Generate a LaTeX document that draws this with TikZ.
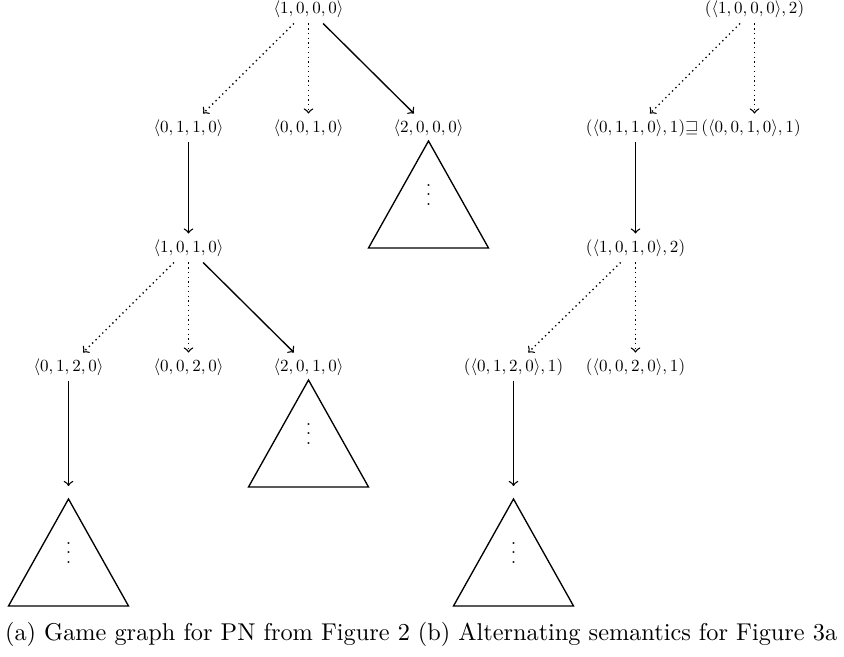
\documentclass[tikz,border=0pt]{standalone}
\usetikzlibrary{calc}
\begin{document}
\begin{tikzpicture}[x=0.4115pt,y=-0.4115pt,
  st/.style={scale=0.7, inner sep=3.3pt},
  lw/.style={line width=0.55pt},
  solidarrow/.style={lw,->},
  dotarrow/.style={lw,->,dash pattern=on 0.55pt off 1.4pt},
  tri/.style={lw},
  dotsnode/.style={anchor=base, inner sep=0, font=\scriptsize},
  captext/.style={inner sep=0}]
\useasboundingbox (0,0) rectangle (844,657);
% ---------- left tree ----------
\node[st] (a0) at (308.5,9) {$\langle 1,0,0,0\rangle$};
\node[st] (a1) at (188.5,128) {$\langle 0,1,1,0\rangle$};
\node[st] (a2) at (308.5,128) {$\langle 0,0,1,0\rangle$};
\node[st] (a3) at (428.5,128) {$\langle 2,0,0,0\rangle$};
\node[st] (b0) at (188.5,248) {$\langle 1,0,1,0\rangle$};
\node[st] (c1) at (68.5,367) {$\langle 0,1,2,0\rangle$};
\node[st] (c2) at (188.5,367) {$\langle 0,0,2,0\rangle$};
\node[st] (c3) at (308.5,367) {$\langle 2,0,1,0\rangle$};
\coordinate (d1) at (68.5,486);
\draw[dotarrow] (a0) -- (a1);
\draw[dotarrow] (a0) -- (a2);
\draw[solidarrow] (a0) -- (a3);
\draw[solidarrow] (a1) -- (b0);
\draw[dotarrow] (b0) -- (c1);
\draw[dotarrow] (b0) -- (c2);
\draw[solidarrow] (b0) -- (c3);
\draw[solidarrow] (c1) -- (d1);
% triangles
\draw[tri] ($(a3)+(0,13)$) -- ++(-60,107) -- ++(120,0) -- cycle;
\node[dotsnode] (va3) at ($(a3)+(0,77.5)$) {$\vdots$};
\draw[tri] ($(c3)+(0,13)$) -- ++(-60,107) -- ++(120,0) -- cycle;
\node[dotsnode] (vc3) at ($(c3)+(0,77.5)$) {$\vdots$};
\draw[tri] ($(d1)+(0,13)$) -- ++(-60,107) -- ++(120,0) -- cycle;
\node[dotsnode] (vd1) at ($(d1)+(0,77.5)$) {$\vdots$};
% ---------- right tree ----------
\node[st] (r0) at (754.5,9) {$(\langle 1,0,0,0\rangle,2)$};
\node[st] (rl) at (635.5,128) {$(\langle 0,1,1,0\rangle,1)$};
\node[st] (rs) at (692,128) {$\sqsupseteq$};
\node[st] (rr) at (751,128) {$(\langle 0,0,1,0\rangle,1)$};
\node[st] (rb) at (635.5,248) {$(\langle 1,0,1,0\rangle,2)$};
\node[st] (rc1) at (513.5,367) {$(\langle 0,1,2,0\rangle,1)$};
\node[st] (rc2) at (635.5,367) {$(\langle 0,0,2,0\rangle,1)$};
\coordinate (rd1) at (513.5,486);
\draw[dotarrow] (r0) -- (rl);
\draw[dotarrow] (r0) -- (r0 |- rr.north);
\draw[solidarrow] (rl) -- (rb);
\draw[dotarrow] (rb) -- (rc1);
\draw[dotarrow] (rb) -- (rc2);
\draw[solidarrow] (rc1) -- (rd1);
\draw[tri] ($(rd1)+(0,13)$) -- ++(-60,107) -- ++(120,0) -- cycle;
\node[dotsnode] (vrd1) at ($(rd1)+(0,77.5)$) {$\vdots$};
% ---------- captions ----------
\node[captext] (capa) at (207.5,634) {(a) Game graph for PN from Figure 2};
\node[captext] (capb) at (627.5,634) {(b) Alternating semantics for Figure 3a};
\end{tikzpicture}
\end{document}
